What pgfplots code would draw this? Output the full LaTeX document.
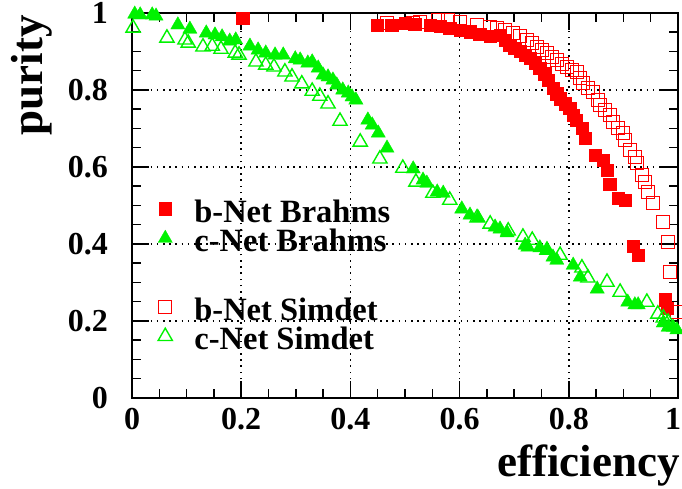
\documentclass[border=0pt]{standalone}
\usepackage{pgfplots}
\pgfplotsset{compat=1.18}
\usepackage{fontspec}
\setmainfont{Liberation Serif}

\definecolor{rootred}{rgb}{1,0,0}
\definecolor{rootgreen}{rgb}{0,0.95,0}
\newcommand\ticksize{\fontsize{32bp}{34bp}\selectfont\bfseries}
\newcommand\legsize{\fontsize{32.5bp}{34bp}\selectfont\bfseries}
\newcommand\labelsize{\fontsize{45bp}{47bp}\selectfont\bfseries}
\newcommand\rowstrut{\rule[-6bp]{0pt}{34bp}}

\begin{document}
\begin{tikzpicture}
\begin{axis}[
  at={(132bp,91bp)}, anchor=south west,
  scale only axis, width=546bp, height=385bp,
  xmin=0, xmax=1, ymin=0, ymax=1,
  xtick={0,0.2,0.4,0.6,0.8,1}, ytick={0,0.2,0.4,0.6,0.8,1},
  xticklabels={0,0.2,0.4,0.6,0.8,\makebox[0pt][r]{1\kern-3bp}},
  minor tick num=3,
  tick align=inside,
  major tick length=17bp, minor tick length=9bp,
  every tick/.style={black, line width=1.5bp},
  axis line style={line width=2bp},
  grid=major,
  major grid style={black, line width=1.6bp, dash pattern=on 1.6bp off 4.6bp},
  ticklabel style={font=\ticksize},
  /pgf/number format/assume math mode=true,
  xticklabel style={anchor=north, inner sep=0pt, yshift=-10bp},
  yticklabel style={anchor=east, inner sep=0pt, xshift=-24bp},
  xlabel={efficiency}, ylabel={purity},
  xlabel style={font=\labelsize, at={(rel axis cs:1.0037,-0.122)}, anchor=north east, inner sep=0pt},
  ylabel style={font=\labelsize, at={(rel axis cs:-0.1465,0.995)}, anchor=south east, inner sep=0pt},
  legend style={draw=none, fill=none, at={(rel axis cs:0.045,0.53)}, anchor=north west,
    font=\legsize, inner sep=0pt, column sep=20bp,
    nodes={inner xsep=2bp, inner ysep=0pt}},
  legend cell align=left,
]
% b-tagging network, Brahms simulation
\addplot[only marks, mark=square*, mark size=6.2bp, draw=rootred, fill=rootred] coordinates {
(0.015,1.010) (0.042,1.010) (0.203,0.987) (0.449,0.969) (0.476,0.969) (0.500,0.974)
(0.518,0.971) (0.546,0.969) (0.564,0.966) (0.582,0.961) (0.601,0.956) (0.619,0.951)
(0.637,0.945) (0.656,0.940) (0.674,0.943) (0.683,0.930) (0.692,0.917) (0.701,0.909)
(0.711,0.901) (0.720,0.891) (0.729,0.883) (0.738,0.870) (0.747,0.857) (0.756,0.842)
(0.762,0.826) (0.771,0.805) (0.778,0.790) (0.784,0.777) (0.793,0.764) (0.802,0.753)
(0.808,0.735) (0.813,0.722) (0.824,0.701) (0.830,0.675) (0.848,0.631) (0.863,0.618)
(0.870,0.592) (0.875,0.556) (0.890,0.519) (0.903,0.514) (0.918,0.395) (0.927,0.371)
(0.976,0.255) (0.980,0.234)
};
\addlegendentry{\rowstrut b-Net Brahms}
% c-tagging network, Brahms simulation
\addplot[only marks, mark=triangle*, mark size=8.2bp, draw=rootgreen, fill=rootgreen] coordinates {
(0.005,0.997) (0.015,0.995) (0.037,0.995) (0.044,0.992) (0.084,0.969) (0.106,0.958)
(0.136,0.948) (0.152,0.943) (0.165,0.938) (0.179,0.927) (0.190,0.930) (0.216,0.914)
(0.231,0.904) (0.245,0.896) (0.262,0.891) (0.277,0.891) (0.299,0.881) (0.308,0.878)
(0.322,0.870) (0.330,0.873) (0.341,0.857) (0.350,0.839) (0.359,0.834) (0.368,0.826)
(0.375,0.813) (0.386,0.800) (0.396,0.792) (0.403,0.782) (0.410,0.774) (0.432,0.722)
(0.440,0.709) (0.451,0.688) (0.467,0.649) (0.515,0.595) (0.533,0.566) (0.540,0.558)
(0.559,0.535) (0.570,0.532) (0.604,0.491) (0.619,0.475) (0.634,0.468) (0.665,0.444)
(0.674,0.439) (0.687,0.429) (0.720,0.397) (0.725,0.392) (0.747,0.390) (0.760,0.384)
(0.771,0.366) (0.778,0.358) (0.808,0.345) (0.821,0.314) (0.852,0.283) (0.908,0.249)
(0.921,0.242) (0.927,0.242) (0.973,0.195) (0.982,0.184) (0.991,0.184) (0.998,0.177)
};
\addlegendentry{\rowstrut c-Net Brahms}
\addlegendimage{empty legend}
\addlegendentry{\rule{0pt}{37.5bp}}
% b-tagging network, Simdet simulation
\addplot[only marks, mark=square, mark size=6.5bp, draw=rootred, line width=1.4bp] coordinates {
(0.467,0.974) (0.515,0.974) (0.527,0.977) (0.560,0.982) (0.579,0.982) (0.601,0.977)
(0.632,0.969) (0.656,0.964) (0.668,0.961) (0.683,0.956) (0.698,0.948) (0.711,0.940)
(0.723,0.930) (0.733,0.922) (0.742,0.912) (0.751,0.904) (0.760,0.896) (0.769,0.886)
(0.778,0.878) (0.788,0.868) (0.797,0.860) (0.806,0.852) (0.815,0.847) (0.821,0.831)
(0.826,0.818) (0.835,0.805) (0.844,0.795) (0.853,0.774) (0.857,0.761) (0.866,0.748)
(0.875,0.735) (0.881,0.717) (0.890,0.701) (0.899,0.688) (0.903,0.670) (0.912,0.644)
(0.921,0.626) (0.925,0.610) (0.934,0.579) (0.940,0.561) (0.945,0.535) (0.954,0.506)
(0.973,0.457) (0.982,0.405) (0.985,0.327) (0.998,0.223)
};
\addlegendentry{\rowstrut b-Net Simdet}
% c-tagging network, Simdet simulation
\addplot[only marks, mark=triangle, mark size=8.2bp, draw=rootgreen, line width=1.4bp] coordinates {
(0.002,0.961) (0.064,0.935) (0.097,0.930) (0.103,0.922) (0.130,0.912) (0.147,0.914)
(0.163,0.906) (0.189,0.896) (0.196,0.891) (0.227,0.873) (0.245,0.865) (0.260,0.860)
(0.280,0.847) (0.293,0.834) (0.311,0.816) (0.330,0.797) (0.344,0.784) (0.359,0.764)
(0.381,0.719) (0.418,0.665) (0.454,0.621) (0.496,0.597) (0.520,0.561) (0.551,0.532)
(0.582,0.514) (0.632,0.468) (0.656,0.452) (0.689,0.434) (0.716,0.418) (0.733,0.410)
(0.760,0.384) (0.784,0.371) (0.824,0.338) (0.835,0.312) (0.870,0.301) (0.894,0.275)
(0.943,0.249) (0.963,0.218) (0.973,0.208) (0.982,0.197)
};
\addlegendentry{\rowstrut c-Net Simdet}
\end{axis}
\pgfresetboundingbox
\path (0,0) rectangle (682bp,489bp);
\end{tikzpicture}
\end{document}
